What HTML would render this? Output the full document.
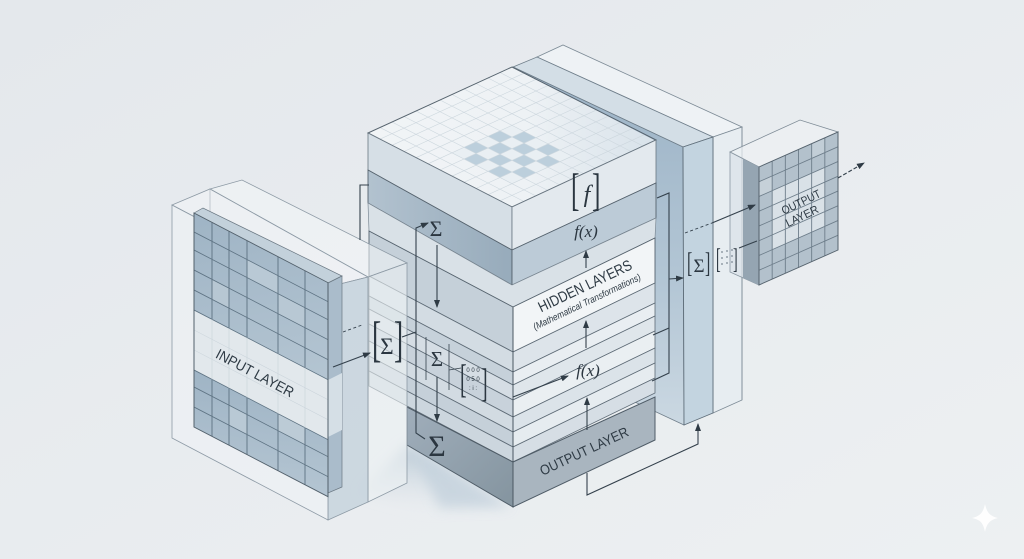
<!DOCTYPE html>
<html><head><meta charset="utf-8">
<style>
html,body{margin:0;padding:0;background:#e9edf0;}
svg{display:block;}
text{font-family:"Liberation Sans",sans-serif;fill:#2e3a44;}
.serif{font-family:"Liberation Serif",serif;fill:#2b3640;}
</style></head><body>
<svg width="1024" height="559" viewBox="0 0 1024 559" xmlns="http://www.w3.org/2000/svg">
<defs>
<linearGradient id="bg" x1="0" y1="0" x2="1" y2="1">
<stop offset="0" stop-color="#e4e8ec"/><stop offset="1" stop-color="#edf0f2"/>
</linearGradient>
<linearGradient id="blueface" x1="0" y1="0" x2="0" y2="1">
<stop offset="0" stop-color="#9cb3c6"/><stop offset="0.6" stop-color="#b3c6d5"/><stop offset="1" stop-color="#cbd8e2"/>
</linearGradient>
<linearGradient id="topface" x1="0" y1="0" x2="1" y2="1">
<stop offset="0" stop-color="#f1f4f6"/><stop offset="0.55" stop-color="#eef2f5"/><stop offset="1" stop-color="#d8e2ea"/>
</linearGradient>
<linearGradient id="gridblue" x1="0" y1="0" x2="1" y2="1">
<stop offset="0" stop-color="#9fb4c5"/><stop offset="1" stop-color="#b4c5d2"/>
</linearGradient>
<linearGradient id="darkband" x1="0" y1="0" x2="1" y2="0">
<stop offset="0" stop-color="#b2c2cf"/><stop offset="1" stop-color="#97abbb"/>
</linearGradient>
<linearGradient id="outleft" x1="0" y1="0" x2="1" y2="1">
<stop offset="0" stop-color="#a0aebb"/><stop offset="1" stop-color="#84949f"/>
</linearGradient>
<linearGradient id="shadow" x1="0" y1="0" x2="0" y2="1">
<stop offset="0" stop-color="#b3c4d1" stop-opacity="0.95"/><stop offset="1" stop-color="#dfe6eb" stop-opacity="0"/>
</linearGradient>
<filter id="blur" x="-50%" y="-50%" width="200%" height="200%"><feGaussianBlur stdDeviation="6"/></filter>
<marker id="ah" viewBox="0 0 8 6" refX="7" refY="3" markerWidth="8" markerHeight="6" markerUnits="userSpaceOnUse" orient="auto">
<path d="M0,0 L8,3 L0,6 z" fill="#2f3b45"/>
</marker>
</defs>
<rect width="1024" height="559" fill="url(#bg)"/>

<!-- shadow -->
<polygon points="407,445 512,507 430,514 360,492" fill="url(#shadow)" filter="url(#blur)"/>
<polygon points="407,443 512,507 440,508" fill="#c4d2dd" opacity="0.8" filter="url(#blur)"/>

<!-- PILLAR -->
<polygon points="537,57 563,45 742,127 713,137" fill="#eef2f5" stroke="#7d8b96" stroke-width="0.8"/>
<polygon points="713,137 742,127 742,400 713,413" fill="#e7edf1" stroke="#7d8b96" stroke-width="0.8"/>
<polygon points="513,67 537,57 713,137 683,147" fill="#d3dee6" stroke="#6f7e8a" stroke-width="0.8"/>
<polygon points="513,67 683,147 684,425 513,345" fill="url(#blueface)" stroke="#6f7e8a" stroke-width="0.8"/>
<polygon points="683,147 713,137 713,413 684,425" fill="#c3d4e0" stroke="#5f6e7a" stroke-width="0.9"/>
<line x1="742" y1="127" x2="742" y2="400" stroke="#7d8b96" stroke-width="0.8"/>

<!-- OUTPUT CUBE -->
<polygon points="730,152 800,120 838,132 759,167" fill="#edf1f4" fill-opacity="0.7" stroke="#7f8c97" stroke-width="0.8"/>
<polygon points="730,152 759,167 759,285 730,272" fill="#dbe2e8" fill-opacity="0.75" stroke="#8a97a2" stroke-width="0.8"/>
<polygon points="743,159 759,167 759,285 743,278" fill="#95a5b2"/>
<g transform="matrix(1,-0.443,0,1,759,167)">
<rect x="0" y="0" width="79" height="118" fill="#b3c1cc"/>
<rect x="13.17" y="29.5" width="52.7" height="59" fill="#dfe6eb" opacity="0.85"/>
<rect x="0" y="14.75" width="13.17" height="14.75" fill="#c6d1d9"/>
<rect x="52.67" y="0" width="13.17" height="14.75" fill="#c2ced7"/>
<path d="M13.17 0V118M26.33 0V118M39.5 0V118M52.67 0V118M65.83 0V118M0 14.75H79M0 29.5H79M0 44.25H79M0 59H79M0 73.75H79M0 88.5H79M0 103.25H79" stroke="#6d7d8a" stroke-width="0.9" fill="none"/>
<rect x="0" y="0" width="79" height="118" fill="none" stroke="#56636e" stroke-width="1"/>
</g>
<text transform="translate(801,202) rotate(-26)" y="4" text-anchor="middle" font-size="11.5" textLength="42" lengthAdjust="spacingAndGlyphs">OUTPUT</text>
<text transform="translate(802,216) rotate(-26)" y="4" text-anchor="middle" font-size="11.5" textLength="35" lengthAdjust="spacingAndGlyphs">LAYER</text>

<!-- CENTER STACK : top slab -->
<g transform="matrix(12,6.1667,12,-5.5,368,133)">
<rect x="0" y="0" width="12" height="12" fill="url(#topface)"/>
<g fill="#bccfdc">
<rect x="5" y="3" width="1" height="1"/><rect x="5" y="5" width="1" height="1"/>
<rect x="6" y="2" width="1" height="1"/><rect x="6" y="4" width="1" height="1"/><rect x="6" y="6" width="1" height="1"/>
<rect x="7" y="3" width="1" height="1"/><rect x="7" y="5" width="1" height="1"/>
<rect x="8" y="2" width="1" height="1"/><rect x="8" y="4" width="1" height="1"/><rect x="8" y="6" width="1" height="1"/>
<rect x="9" y="3" width="1" height="1"/><rect x="9" y="5" width="1" height="1"/>
</g>
<g fill="#e9eff3">
<rect x="5" y="2" width="1" height="1"/><rect x="5" y="4" width="1" height="1"/><rect x="5" y="6" width="1" height="1"/>
<rect x="6" y="3" width="1" height="1"/><rect x="6" y="5" width="1" height="1"/>
<rect x="7" y="2" width="1" height="1"/><rect x="7" y="4" width="1" height="1"/><rect x="7" y="6" width="1" height="1"/>
<rect x="8" y="3" width="1" height="1"/><rect x="8" y="5" width="1" height="1"/>
<rect x="9" y="2" width="1" height="1"/><rect x="9" y="4" width="1" height="1"/><rect x="9" y="6" width="1" height="1"/>
</g>
<path d="M1 0V12M2 0V12M3 0V12M4 0V12M5 0V12M6 0V12M7 0V12M8 0V12M9 0V12M10 0V12M11 0V12M0 1H12M0 2H12M0 3H12M0 4H12M0 5H12M0 6H12M0 7H12M0 8H12M0 9H12M0 10H12M0 11H12" stroke="#cdd7de" stroke-width="0.6" fill="none" vector-effect="non-scaling-stroke"/>
</g>
<polygon points="368,133 512,67 656,140 512,207" fill="none" stroke="#56636e" stroke-width="1"/>
<polygon points="368,133 512,207 512,250 368,170" fill="#d6dfe6" stroke="#6a7782" stroke-width="0.8"/>
<polygon points="368,170 512,250 512,285 368,203" fill="url(#darkband)" stroke="#56636e" stroke-width="0.9"/>
<polygon points="512,207 656,140 656,183 512,250" fill="#e3e9ee" stroke="#6a7782" stroke-width="0.8"/>
<polygon points="512,250 656,183 656,218 512,285" fill="#bccbd7" stroke="#56636e" stroke-width="0.9"/>

<!-- gap / top face of hidden -->
<polygon points="368,203 512,285 656,218 655,238 513,307 369,231" fill="#d9e1e7" stroke="#7d8a95" stroke-width="0.7"/>

<!-- hidden slab -->
<polygon points="369,231 513,307 513,352 369,276" fill="#c5d0d9" stroke="#56636e" stroke-width="0.9"/>
<polygon points="513,307 655,238 655,283 513,352" fill="#f2f5f7" stroke="#56636e" stroke-width="0.9"/>

<!-- layers left -->
<g stroke="#5e6b76" stroke-width="0.8">
<polygon points="369,276 513,352 513,372 369,296" fill="#d3dce3"/>
<polygon points="369,296 513,372 513,385 369,309" fill="#c6d1da"/>
<polygon points="369,309 513,385 513,400 369,324" fill="#d5dde4"/>
<polygon points="369,324 513,400 513,417 369,341" fill="#c8d2db"/>
<polygon points="369,341 513,417 513,432 369,356" fill="#d2dbe2"/>
<polygon points="369,356 513,432 513,447 369,371" fill="#c5d0d9"/>
<polygon points="369,371 513,447 513,462 369,386" fill="#ccd6de"/>
<!-- layers right -->
<polygon points="513,352 655,283 655,303 513,372" fill="#dde4ea"/>
<polygon points="513,372 655,303 655,316 513,385" fill="#e9eef2"/>
<polygon points="513,385 655,316 655,331 513,400" fill="#dfe6eb"/>
<polygon points="513,400 655,331 655,348 513,417" fill="#eaeff2"/>
<polygon points="513,417 655,348 655,363 513,432" fill="#dbe3e9"/>
<polygon points="513,432 655,363 655,378 513,447" fill="#e6ecf0"/>
<polygon points="513,447 655,378 655,393 513,462" fill="#d6dee5"/>
</g>

<!-- output slab -->
<polygon points="407,407 513,462 513,507 407,445" fill="url(#outleft)" stroke="#4f5c67" stroke-width="1"/>
<polygon points="513,462 655,397 655,440 513,507" fill="#a9b5bf" stroke="#4f5c67" stroke-width="1"/>
<line x1="513" y1="307" x2="513" y2="507" stroke="#4a5762" stroke-width="1"/>

<!-- INPUT BLOCK -->
<polygon points="210,189 242,180 407,263 368,277" fill="#f3f6f8" fill-opacity="0.55" stroke="#8d9aa5" stroke-width="0.8"/>
<polygon points="368,277 407,263 407,483 368,502" fill="#edf1f4" fill-opacity="0.6" stroke="#8d9aa5" stroke-width="0.8"/>
<polygon points="172,205 210,189 368,277 328,287" fill="#f1f4f6" fill-opacity="0.6" stroke="#8d9aa5" stroke-width="0.8"/>
<polygon points="328,287 368,277 368,502 328,520" fill="#c2d0db" fill-opacity="0.75" stroke="#8d9aa5" stroke-width="0.8"/>
<polygon points="172,205 328,287 328,520 172,438" fill="#eef2f5" fill-opacity="0.55" stroke="#8d9aa5" stroke-width="0.8"/>
<line x1="210" y1="189" x2="210" y2="420" stroke="#a3aeb7" stroke-width="0.6"/>
<polygon points="194,213 203,208 342,276 328,283" fill="#c3d1db" stroke="#6a7782" stroke-width="0.7"/>
<polygon points="328,283 342,276 342,487 328,493" fill="#aabccb" stroke="#6a7782" stroke-width="0.7"/>
<polygon points="328,380 342,373 342,430 328,437" fill="#d5dfe6"/>
<g transform="matrix(1,0.52,0,1,194,213)">
<rect x="0" y="0" width="134" height="97" fill="url(#gridblue)"/>
<rect x="0" y="97" width="134" height="60" fill="#e2e8ec"/>
<rect x="0" y="157" width="134" height="57" fill="url(#gridblue)"/>
<rect x="53" y="19" width="31" height="18" fill="#b9c9d5"/>
<rect x="18" y="57" width="17" height="20" fill="#b7c7d3"/>
<rect x="84" y="37" width="27" height="20" fill="#b8c8d4"/>
<rect x="35" y="174" width="18" height="20" fill="#b9c9d5"/>
<rect x="84" y="157" width="27" height="17" fill="#bccbd6"/>
<path d="M18 0V97M35 0V97M53 0V97M84 0V97M111 0V97M18 157V214M35 157V214M53 157V214M84 157V214M111 157V214M0 19H134M0 37H134M0 57H134M0 77H134M0 97H134M0 157H134M0 174H134M0 194H134" stroke="#5d7282" stroke-width="0.9" fill="none"/>
<path d="M18 97V157M35 97V157M53 97V157M84 97V157M111 97V157M0 117H134M0 137H134" stroke="#c9d3da" stroke-width="0.6" fill="none"/>
<rect x="0" y="0" width="134" height="214" fill="none" stroke="#52606b" stroke-width="1"/>
</g>
<text transform="translate(255,373) rotate(28)" y="5" text-anchor="middle" font-size="14.5" textLength="86" lengthAdjust="spacingAndGlyphs">INPUT LAYER</text>

<!-- CONNECTORS -->
<g stroke="#34414c" stroke-width="1.1" fill="none">
<polyline points="360,240 360,185 369,185"/>
<polyline points="425,439 416,433 416,228 428,223" marker-end="url(#ah)"/>
<line x1="437" y1="245" x2="437" y2="307" marker-end="url(#ah)"/>
<line x1="437" y1="377" x2="437" y2="421" marker-end="url(#ah)"/>
<line x1="402" y1="337" x2="416" y2="332"/>
<line x1="343" y1="332" x2="362" y2="325" stroke-dasharray="3 2.5" stroke-width="0.9"/>
<line x1="333" y1="367" x2="370" y2="353" marker-end="url(#ah)"/>
<line x1="426" y1="337" x2="426" y2="380" stroke-width="0.8"/>
<line x1="449" y1="344" x2="449" y2="390" stroke-width="0.8"/>
<line x1="449" y1="370" x2="461" y2="368" stroke-width="0.8"/>
<line x1="586" y1="268" x2="586" y2="251" marker-end="url(#ah)"/>
<line x1="586" y1="348" x2="586" y2="321" marker-end="url(#ah)"/>
<line x1="513" y1="397" x2="568" y2="376" marker-end="url(#ah)"/>
<line x1="587" y1="430" x2="587" y2="398" marker-end="url(#ah)"/>
<polyline points="587,473 587,495 698,444 698,424" marker-end="url(#ah)"/>
<polyline points="657,198 669,193 669,373 652,381"/>
<line x1="669" y1="328" x2="653" y2="335"/>
<line x1="669" y1="279" x2="683" y2="278" marker-end="url(#ah)"/>
<line x1="685" y1="233" x2="712" y2="223" stroke-dasharray="3 2.5" stroke-width="0.9"/>
<line x1="712" y1="223" x2="755" y2="205" marker-end="url(#ah)"/>
<line x1="739" y1="248" x2="757" y2="241"/>
<line x1="838" y1="178" x2="864" y2="163" stroke-dasharray="4 2" marker-end="url(#ah)"/>
</g>

<!-- SYMBOLS -->
<text class="serif" x="436" y="236" text-anchor="middle" font-size="22">Σ</text>
<text class="serif" x="437" y="366" text-anchor="middle" font-size="21">Σ</text>
<text class="serif" x="437" y="456" text-anchor="middle" font-size="30">Σ</text>
<text class="serif" transform="translate(372,356) scale(0.55,1)" font-size="50">[</text>
<text class="serif" transform="translate(394,356) scale(0.55,1)" font-size="50">]</text>
<text class="serif" x="387" y="354" text-anchor="middle" font-size="23">Σ</text>
<text class="serif" transform="translate(571,205) scale(0.55,1)" font-size="46">[</text>
<text class="serif" transform="translate(592,205) scale(0.55,1)" font-size="46">]</text>
<text class="serif" x="587" y="202" text-anchor="middle" font-size="24" font-style="italic">f</text>
<text class="serif" x="586" y="237" text-anchor="middle" font-size="17" font-style="italic">f(x)</text>
<text class="serif" x="588" y="376" text-anchor="middle" font-size="17" font-style="italic">f(x)</text>
<text class="serif" transform="translate(687,272) scale(0.55,1)" font-size="29">[</text>
<text class="serif" transform="translate(705,272) scale(0.55,1)" font-size="29">]</text>
<text class="serif" x="699" y="272" text-anchor="middle" font-size="19">Σ</text>
<text class="serif" transform="translate(716,268) scale(0.5,1)" font-size="28" fill="#5b6873">[</text>
<text class="serif" transform="translate(733,268) scale(0.5,1)" font-size="28" fill="#5b6873">]</text>
<g fill="#7b8893">
<circle cx="722" cy="252" r="0.9"/><circle cx="727" cy="251" r="0.9"/><circle cx="732" cy="250" r="0.9"/>
<circle cx="722" cy="258" r="0.9"/><circle cx="727" cy="257" r="0.9"/><circle cx="732" cy="256" r="0.9"/>
<circle cx="722" cy="264" r="0.9"/><circle cx="727" cy="263" r="0.9"/><circle cx="732" cy="262" r="0.9"/>
</g>
<text class="serif" transform="translate(460,392) scale(0.5,1)" font-size="40" fill="#4c5963">[</text>
<text class="serif" transform="translate(481,396) scale(0.5,1)" font-size="40" fill="#4c5963">]</text>
<text x="473" y="372" text-anchor="middle" font-size="6" fill="#4c5963">0 0 0</text>
<text x="473" y="381" text-anchor="middle" font-size="6" fill="#4c5963">0 5 0</text>
<text x="473" y="390" text-anchor="middle" font-size="6" fill="#4c5963">: i :</text>

<!-- LABELS -->
<text transform="translate(585,286) rotate(-25.5)" y="5" text-anchor="middle" font-size="15" textLength="102" lengthAdjust="spacingAndGlyphs">HIDDEN LAYERS</text>
<text transform="translate(587,302) rotate(-25.5)" y="3" text-anchor="middle" font-size="9.5" font-style="italic" textLength="118" lengthAdjust="spacingAndGlyphs">(Mathematical Transformations)</text>
<text transform="translate(584,451) rotate(-25)" y="5" text-anchor="middle" font-size="14" textLength="96" lengthAdjust="spacingAndGlyphs">OUTPUT LAYER</text>

<path d="M985,504 C987,513 990,516 998,518 C990,520 987,523 985,532 C983,522 980,520 972,518 C980,516 983,513 985,504Z" fill="#ffffff" opacity="0.9"/>
</svg>
</body></html>
